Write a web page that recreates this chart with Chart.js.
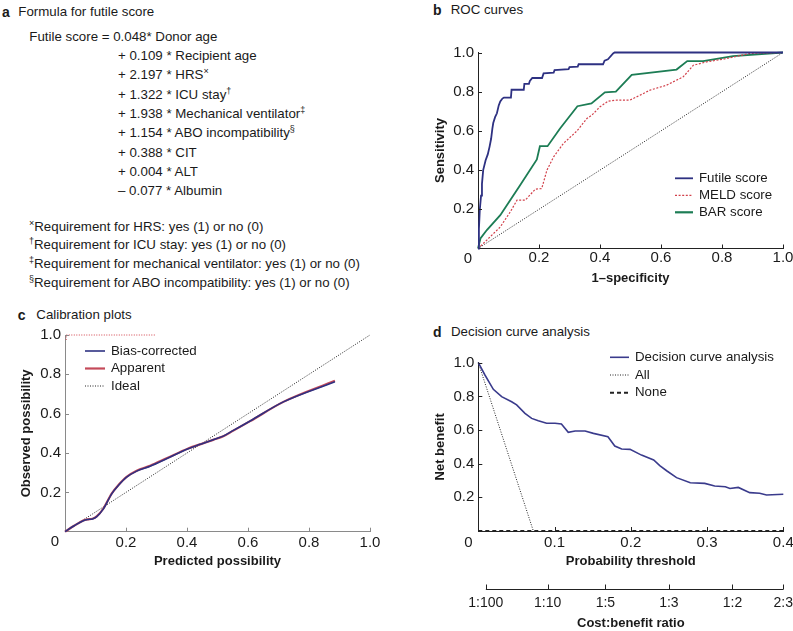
<!DOCTYPE html>
<html><head><meta charset="utf-8">
<script src="https://cdn.jsdelivr.net/npm/chart.js@4.4.0/dist/chart.umd.min.js"></script>
<style>
body{margin:0;background:#fff;width:793px;height:631px;overflow:hidden;position:relative;font-family:"Liberation Sans",Arial,Helvetica,sans-serif;color:#1a1a1a;}
.t{position:absolute;white-space:nowrap;font-size:13.3px;line-height:16px;}
.p{font-weight:bold;font-size:14px;}
sup{font-size:9px;vertical-align:5px;line-height:0;}
canvas{position:absolute;}
</style></head><body>
<!-- Panel a -->
<div class="t p" style="left:2px;top:3.7px">a</div>
<div class="t" style="left:18.3px;top:3.7px">Formula for futile score</div>
<div class="t" style="left:29.3px;top:28.7px">Futile score = 0.048* Donor age</div>
<div class="t" style="left:118px;top:48px">+ 0.109 * Recipient age</div>
<div class="t" style="left:118px;top:67.3px">+ 2.197 * HRS<sup>×</sup></div>
<div class="t" style="left:118px;top:86.7px">+ 1.322 * ICU stay<sup>†</sup></div>
<div class="t" style="left:118px;top:106px">+ 1.938 * Mechanical ventilator<sup>‡</sup></div>
<div class="t" style="left:118px;top:125.3px">+ 1.154 * ABO incompatibility<sup>§</sup></div>
<div class="t" style="left:118px;top:144.7px">+ 0.388 * CIT</div>
<div class="t" style="left:118px;top:164px">+ 0.004 * ALT</div>
<div class="t" style="left:118px;top:183.3px">– 0.077 * Albumin</div>
<div class="t" style="left:29px;top:218.7px"><sup>×</sup>Requirement for HRS: yes (1) or no (0)</div>
<div class="t" style="left:29px;top:237.3px"><sup>†</sup>Requirement for ICU stay: yes (1) or no (0)</div>
<div class="t" style="left:29px;top:256px"><sup>‡</sup>Requirement for mechanical ventilator: yes (1) or no (0)</div>
<div class="t" style="left:29px;top:275.3px"><sup>§</sup>Requirement for ABO incompatibility: yes (1) or no (0)</div>
<!-- Panel titles -->
<div class="t p" style="left:433px;top:2px">b</div>
<div class="t" style="left:450.7px;top:2px">ROC curves</div>
<div class="t p" style="left:17.7px;top:307px">c</div>
<div class="t" style="left:36.3px;top:307px">Calibration plots</div>
<div class="t p" style="left:433px;top:323.7px">d</div>
<div class="t" style="left:451px;top:323.7px">Decision curve analysis</div>

<canvas id="cb" width="393" height="262" style="left:400px;top:30px;width:393px;height:262px"></canvas>
<canvas id="cc" width="400" height="260" style="left:0px;top:318px;width:400px;height:260px"></canvas>
<canvas id="cd" width="393" height="293" style="left:400px;top:338px;width:393px;height:293px"></canvas>

<script>
// ---------- Panel b: ROC curves ----------
const rocFutileFpr = [0,0.003,0.006,0.01,0.013,0.017,0.025,0.032,0.038,0.043,0.047,0.05,0.056,0.062,0.068,0.073,0.08,0.085,0.108,0.11,0.15,0.152,0.167,0.17,0.178,0.21,0.215,0.248,0.251,0.297,0.3,0.327,0.33,0.41,0.415,0.426,0.443,0.448,1];
const rocFutileTpr = [0,0.1,0.2,0.27,0.33,0.4,0.45,0.48,0.52,0.56,0.61,0.64,0.67,0.69,0.73,0.75,0.765,0.77,0.77,0.81,0.81,0.84,0.84,0.855,0.87,0.87,0.893,0.897,0.91,0.915,0.925,0.928,0.94,0.94,0.958,0.965,0.995,1,1];
const rocMeldFpr = [0,0.029,0.073,0.106,0.128,0.14,0.155,0.188,0.209,0.226,0.248,0.28,0.324,0.357,0.373,0.4,0.427,0.455,0.498,0.531,0.564,0.618,0.673,0.706,0.749,0.815,0.891,1];
const rocMeldTpr = [0,0.043,0.11,0.187,0.247,0.247,0.247,0.303,0.306,0.4,0.468,0.536,0.599,0.663,0.68,0.723,0.752,0.757,0.757,0.782,0.808,0.833,0.876,0.935,0.952,0.969,0.995,1];
const rocBarFpr = [0,0.008,0.029,0.073,0.106,0.138,0.193,0.203,0.228,0.269,0.326,0.372,0.416,0.452,0.504,0.651,0.686,0.738,0.836,1];
const rocBarTpr = [0,0.051,0.094,0.17,0.247,0.323,0.454,0.522,0.522,0.612,0.726,0.74,0.797,0.8,0.886,0.913,0.956,0.956,0.981,1];
const rocRefX = [0,1];
const rocRefY = [0,1];

// ---------- Panel c: Calibration plots ----------
const calPredicted = [0,0.03,0.06,0.075,0.09,0.104,0.126,0.153,0.175,0.202,0.235,0.279,0.333,0.404,0.443,0.486,0.519,0.552,0.607,0.716,0.885];
const calBiasCorrected = [0,0.03,0.056,0.062,0.065,0.077,0.116,0.192,0.235,0.277,0.308,0.333,0.371,0.422,0.444,0.468,0.486,0.515,0.563,0.66,0.762];
const calApparent = [0,0.03,0.057,0.063,0.066,0.078,0.118,0.194,0.237,0.279,0.31,0.335,0.373,0.423,0.444,0.467,0.485,0.514,0.562,0.66,0.767];
const calIdealX = [0,1];
const calIdealY = [0,1];
const calTopX = [0.004,0.004,0.295];
const calTopY = [0.975,1,1];

// ---------- Panel d: Decision curve analysis ----------
const dcaThreshold = [0,0.0087,0.0197,0.0306,0.0437,0.0503,0.0612,0.07,0.0787,0.0896,0.1006,0.109,0.118,0.127,0.14,0.151,0.17,0.179,0.188,0.199,0.214,0.23,0.238,0.247,0.26,0.278,0.297,0.31,0.324,0.33,0.341,0.356,0.369,0.378,0.4];
const dcaNetBenefit = [1,0.927,0.842,0.798,0.768,0.749,0.699,0.669,0.655,0.64,0.64,0.636,0.586,0.594,0.594,0.58,0.56,0.505,0.487,0.485,0.451,0.422,0.388,0.358,0.317,0.287,0.283,0.267,0.263,0.253,0.259,0.228,0.224,0.214,0.218];
const dcaAllX = [0,0.0722];
const dcaAllY = [1,0];
const dcaNoneX = [0,0.4];
const dcaNoneY = [0,0];
const costBenefitLabels = ['1:100','1:10','1:5','1:3','1:2','2:3'];
const costBenefitThresholds = [0.0099,0.0909,0.1667,0.25,0.3333,0.4];

// ---------- helpers ----------
const FONT = '"Liberation Sans", Arial, Helvetica, sans-serif';
const TICK_FONT = {family: FONT, size: 15};
const CB_FONT = {family: FONT, size: 14};
const TITLE_FONT = {family: FONT, size: 13, weight: 'bold'};
const TXT = '#1a1a1a';
const NAVY = '#2e3182', RED = '#d2414b', GREEN = '#1d7d55';

function pts(xs, ys) { return xs.map((x, i) => ({x: x, y: ys[i]})); }
function fmt(v) { return Math.abs(v) < 1e-9 ? '' : v.toFixed(1); }

function xScale(min, max, step, color, height, title, titlePadBottom, tickPad) {
  return {
    type: 'linear', position: 'bottom', min: min, max: max,
    ticks: {stepSize: step, padding: tickPad, color: TXT, font: TICK_FONT, autoSkip: false, maxRotation: 0, callback: fmt},
    grid: {display: false, drawTicks: false},
    border: {display: true, color: color, width: 1},
    title: {display: true, text: title, font: TITLE_FONT, color: TXT, padding: {top: 0, bottom: titlePadBottom}},
    afterFit: s => { s.height = height; s.paddingLeft = 0; s.paddingRight = 0; }
  };
}
function yScale(min, max, step, color, width, title, titlePadTop) {
  return {
    type: 'linear', position: 'left', min: min, max: max,
    ticks: {stepSize: step, padding: 4, color: TXT, font: TICK_FONT, autoSkip: false, callback: fmt},
    grid: {display: false, drawTicks: false},
    border: {display: true, color: color, width: 1},
    title: {display: true, text: title, font: TITLE_FONT, color: TXT, padding: {top: titlePadTop, bottom: 0}},
    afterFit: s => { s.width = width; s.paddingTop = 0; s.paddingBottom = 0; }
  };
}

const innerTicks = {
  id: 'innerTicks',
  afterDraw(chart, args, o) {
    const ctx = chart.ctx, xs = chart.scales.x, ys = chart.scales.y;
    ctx.save();
    ctx.strokeStyle = o.color; ctx.lineWidth = 1;
    xs.ticks.forEach(t => {
      if (Math.abs(t.value) < 1e-9) return;
      const p = Math.round(xs.getPixelForValue(t.value)) + 0.5;
      ctx.beginPath(); ctx.moveTo(p, xs.top); ctx.lineTo(p, xs.top - o.len); ctx.stroke();
    });
    ys.ticks.forEach(t => {
      if (Math.abs(t.value) < 1e-9) return;
      const p = Math.round(ys.getPixelForValue(t.value)) + 0.5;
      ctx.beginPath(); ctx.moveTo(ys.right, p); ctx.lineTo(ys.right + o.len, p); ctx.stroke();
    });
    ctx.fillStyle = TXT; ctx.font = TICK_FONT.size + 'px ' + FONT;
    ctx.textAlign = 'center'; ctx.textBaseline = 'middle';
    ctx.fillText('0', chart.chartArea.left + o.zeroDx, chart.chartArea.bottom + o.zeroDy);
    ctx.restore();
  }
};

const insetLegend = {
  id: 'insetLegend',
  afterDraw(chart, args, o) {
    if (!o.items) return;
    const ctx = chart.ctx;
    ctx.save();
    o.items.forEach((di, i) => {
      const ds = chart.data.datasets[di];
      const y = o.y + i * o.dy;
      ctx.strokeStyle = ds.borderColor; ctx.lineWidth = ds.legendWidth || ds.borderWidth;
      ctx.setLineDash(ds.borderDash || []);
      ctx.beginPath(); ctx.moveTo(o.x0, y); ctx.lineTo(o.x1, y); ctx.stroke();
      ctx.setLineDash([]);
      ctx.fillStyle = TXT; ctx.font = '13.3px ' + FONT;
      ctx.textAlign = 'left'; ctx.textBaseline = 'middle';
      ctx.fillText(ds.label, o.tx, y);
    });
    ctx.restore();
  }
};

const secondAxis = {
  id: 'secondAxis',
  afterDraw(chart, args, o) {
    const s = chart.scales.x2; if (!s) return;
    const ctx = chart.ctx;
    ctx.save(); ctx.strokeStyle = o.color; ctx.lineWidth = 1;
    const y = Math.round(s.top + o.offset) + 0.5;
    const vals = s.ticks.map(t => t.value);
    const p0 = s.getPixelForValue(vals[0]), p1 = s.getPixelForValue(vals[vals.length - 1]);
    ctx.beginPath(); ctx.moveTo(p0, y); ctx.lineTo(p1, y); ctx.stroke();
    vals.forEach(v => {
      const p = Math.round(s.getPixelForValue(v)) + 0.5;
      ctx.beginPath(); ctx.moveTo(p, y); ctx.lineTo(p, y - o.len); ctx.stroke();
    });
    ctx.restore();
  }
};

const common = {responsive: false, maintainAspectRatio: false, animation: false, events: [],
  elements: {point: {radius: 0}, line: {tension: 0}}};

// ---------- Chart b ----------
new Chart(document.getElementById('cb'), {
  type: 'line',
  data: {datasets: [
    {label: 'Futile score', data: pts(rocFutileFpr, rocFutileTpr), borderColor: NAVY, borderWidth: 1.8, clip: 4},
    {label: 'MELD score', data: pts(rocMeldFpr, rocMeldTpr), borderColor: RED, borderWidth: 1.2, borderDash: [2, 1.6], clip: 4},
    {label: 'BAR score', data: pts(rocBarFpr, rocBarTpr), borderColor: GREEN, borderWidth: 1.8, legendWidth: 2.2, clip: 4},
    {label: 'Reference', data: pts(rocRefX, rocRefY), borderColor: '#222', borderWidth: 1, borderDash: [1, 1.5], clip: 4}
  ]},
  options: Object.assign({}, common, {
    layout: {padding: {left: 0, top: 22.5, right: 10, bottom: 0}},
    scales: {
      x: xScale(0, 1, 0.2, '#222', 43.5, '1–specificity', 6.2, 0.5),
      y: yScale(0, 1, 0.2, '#222', 78, 'Sensitivity', 32.2)
    },
    plugins: {legend: {display: false}, tooltip: {enabled: false},
      innerTicks: {color: '#222', len: 4, zeroDx: -10, zeroDy: 10},
      insetLegend: {items: [0, 1, 2], x0: 275, x1: 293, tx: 299, y: 148.3, dy: 17}}
  }),
  plugins: [innerTicks, insetLegend]
});

// ---------- Chart c ----------
new Chart(document.getElementById('cc'), {
  type: 'line',
  data: {datasets: [
    {label: 'Bias-corrected', data: pts(calPredicted, calBiasCorrected), borderColor: NAVY, borderWidth: 1.6, cubicInterpolationMode: 'monotone', clip: 4},
    {label: 'Apparent', data: pts(calPredicted, calApparent), borderColor: '#c44a5a', borderWidth: 2.2, cubicInterpolationMode: 'monotone', clip: 4},
    {label: 'Ideal', data: pts(calIdealX, calIdealY), borderColor: '#222', borderWidth: 1, borderDash: [1, 1.5], clip: 4},
    {label: 'Apparent (top)', data: pts(calTopX, calTopY), borderColor: RED, borderWidth: 1, borderDash: [1, 1.5], clip: 4}
  ]},
  options: Object.assign({}, common, {
    layout: {padding: {left: 0, top: 17, right: 30, bottom: 0}},
    scales: {
      x: xScale(0, 1, 0.2, '#8a8a8a', 46.3, 'Predicted possibility', 8.5, 2),
      y: yScale(0, 1, 0.2, '#8a8a8a', 65, 'Observed possibility', 18.2)
    },
    plugins: {legend: {display: false}, tooltip: {enabled: false},
      innerTicks: {color: '#8a8a8a', len: 4, zeroDx: -10, zeroDy: 10},
      insetLegend: {items: [0, 1, 2], x0: 85, x1: 105, tx: 111, y: 33, dy: 17.5}}
  }),
  plugins: [innerTicks, insetLegend]
});

// ---------- Chart d ----------
new Chart(document.getElementById('cd'), {
  type: 'line',
  data: {datasets: [
    {label: 'Decision curve analysis', data: pts(dcaThreshold, dcaNetBenefit), borderColor: '#3a3b8c', borderWidth: 1.6, clip: 4},
    {label: 'All', data: pts(dcaAllX, dcaAllY), borderColor: '#222', borderWidth: 1, borderDash: [1, 1.5], clip: 4},
    {label: 'None', data: pts(dcaNoneX, dcaNoneY), borderColor: '#222', borderWidth: 2, borderDash: [4, 3], clip: 4}
  ]},
  options: Object.assign({}, common, {
    layout: {padding: {left: 0, top: 24.7, right: 9.7, bottom: 0}},
    scales: {
      x: xScale(0, 0.4, 0.1, '#222', 50, 'Probability threshold', 11.5, 2.7),
      x2: {
        type: 'linear', position: 'bottom', weight: 1, min: 0, max: 0.4,
        afterBuildTicks: s => { s.ticks = costBenefitThresholds.map(v => ({value: v})); },
        ticks: {padding: 13.6, color: TXT, font: CB_FONT, autoSkip: false, maxRotation: 0,
          callback: (v, i) => costBenefitLabels[i]},
        grid: {display: false, drawTicks: false},
        border: {display: false},
        title: {display: true, text: 'Cost:benefit ratio', font: TITLE_FONT, color: TXT, padding: {top: 0, bottom: 0.2}},
        afterFit: s => { s.height = 50; s.paddingLeft = 0; s.paddingRight = 0; }
      },
      y: yScale(0, 1, 0.2, '#222', 78.3, 'Net benefit', 32.2)
    },
    plugins: {legend: {display: false}, tooltip: {enabled: false},
      innerTicks: {color: '#222', len: 4, zeroDx: -10, zeroDy: 11.7},
      insetLegend: {items: [0, 1, 2], x0: 210, x1: 229, tx: 235, y: 19.3, dy: 17.7},
      secondAxis: {color: '#222', offset: 8, len: 5}}
  }),
  plugins: [innerTicks, insetLegend, secondAxis]
});
</script>
</body></html>
